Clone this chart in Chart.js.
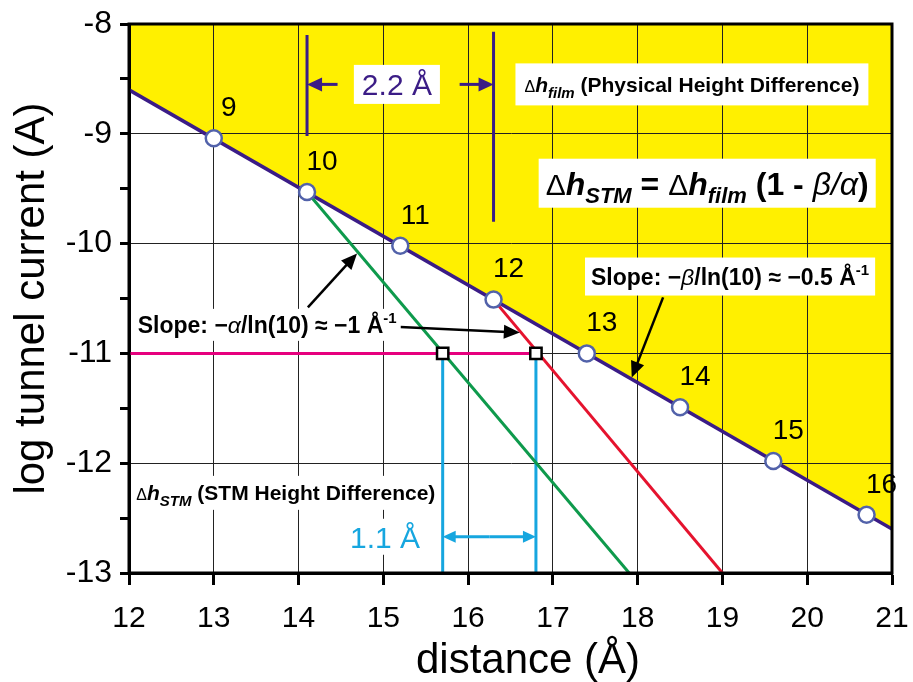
<!DOCTYPE html>
<html>
<head>
<meta charset="utf-8">
<script src="https://cdn.jsdelivr.net/npm/chart.js@4/dist/chart.umd.min.js"></script>
<style>
	html, body { margin: 0; padding: 0; background: #fff; }
	#wrap { width: 913px; height: 682px; }
</style>
</head>
<body>
<div id="wrap"><canvas id="chart" width="913" height="682"></canvas></div>
<script>
const FONT = '"Liberation Sans", Arial, sans-serif'

// layer count labels sitting on the film line
const layerNames = ['9', '10', '11', '12', '13', '14', '15', '16']
const layerX = [13.0, 14.1, 15.2, 16.3, 17.4, 18.5, 19.6, 20.7]
const layerY = [-9.04, -9.53, -10.02, -10.51, -11.0, -11.49, -11.98, -12.47]

// film line (slope -beta/ln10)
const filmX = [12, 21]
const filmY = [-8.6, -12.6]

// tip lines (slope -alpha/ln10)
const greenX = [14.1, 17.9]
const greenY = [-9.53, -13]
const redX = [16.3, 19.0]
const redY = [-10.51, -13]

// constant current set point and crossings
const currentX = [12, 16.8]
const currentY = [-11, -11]
const crossX = [15.7, 16.8]
const crossY = [-11, -11]
const dropY = [-11, -13]

// 2.2 A dimension lines
const dimLeftX = [14.1, 14.1]
const dimLeftY = [-8.1, -9.02]
const dimRightX = [16.3, 16.3]
const dimRightY = [-8.07, -9.8]

const pts = (xs, ys) => xs.map((x, i) => ({ x: x, y: ys[i] }))

const lineSet = (xs, ys, color) => ({
	data: pts(xs, ys),
	borderColor: color,
	borderWidth: 3,
	pointRadius: 0,
	fill: false
})

// mixed-font text, runs = [{t, s, w, st, dy}]
function drawRuns(ctx, runs, cx, cy, o) {
	let total = 0
	runs.forEach(r => {
		ctx.font = (r.st || '') + ' ' + (r.w || '') + ' ' + r.s + 'px ' + FONT
		r.len = ctx.measureText(r.t).width
		total += r.len
	})
	if (o.box) {
		ctx.fillStyle = '#fff'
		ctx.fillRect(cx - total / 2 - o.padX, cy - o.boxH / 2, total + 2 * o.padX, o.boxH)
	}
	let x = cx - total / 2
	const base = cy + o.main * 0.36
	ctx.textAlign = 'left'
	ctx.textBaseline = 'alphabetic'
	ctx.fillStyle = o.color || '#000'
	runs.forEach(r => {
		ctx.font = (r.st || '') + ' ' + (r.w || '') + ' ' + r.s + 'px ' + FONT
		ctx.fillText(r.t, x, base + (r.dy || 0))
		x += r.len
	})
}

function arrow(ctx, x1, y1, x2, y2, color, lw, head, half) {
	const a = Math.atan2(y2 - y1, x2 - x1)
	const c = Math.cos(a)
	const s = Math.sin(a)
	ctx.strokeStyle = color
	ctx.lineWidth = lw
	ctx.beginPath()
	ctx.moveTo(x1, y1)
	ctx.lineTo(x2 - c * head * 0.8, y2 - s * head * 0.8)
	ctx.stroke()
	ctx.fillStyle = color
	ctx.beginPath()
	ctx.moveTo(x2, y2)
	ctx.lineTo(x2 - head * c + half * s, y2 - head * s - half * c)
	ctx.lineTo(x2 - head * c - half * s, y2 - head * s + half * c)
	ctx.closePath()
	ctx.fill()
}

const notesPlugin = {
	id: 'notes',
	afterDatasetsDraw(chart) {
		const ctx = chart.ctx
		const xs = chart.scales.x
		const ys = chart.scales.y
		const X = v => xs.getPixelForValue(v)
		const Y = v => ys.getPixelForValue(v)
		ctx.save()

		// layer numbers
		const meta = chart.getDatasetMeta(0)
		ctx.font = '28px ' + FONT
		ctx.fillStyle = '#000'
		ctx.textAlign = 'center'
		ctx.textBaseline = 'middle'
		meta.data.forEach((p, i) => {
			ctx.fillText(layerNames[i], p.x + 15, p.y - 30)
		})

		// 2.2 A dimension
		const purple = '#3b1c86'
		arrow(ctx, X(14.46), Y(-8.55), X(14.1), Y(-8.55), purple, 3, 15, 7)
		arrow(ctx, X(15.9), Y(-8.55), X(16.3), Y(-8.55), purple, 3, 15, 7)
		drawRuns(ctx, [{ t: '2.2 Å', s: 30 }], X(15.16), Y(-8.55), { box: true, padX: 8, boxH: 39, main: 30, color: purple })

		// 1.1 A dimension
		const cyan = '#16a6df'
		arrow(ctx, X(16.25), Y(-12.67), X(15.7), Y(-12.67), cyan, 3, 13, 6)
		arrow(ctx, X(16.25), Y(-12.67), X(16.8), Y(-12.67), cyan, 3, 13, 6)
		drawRuns(ctx, [{ t: '1.1 Å', s: 30 }], X(15.02), Y(-12.67), { box: true, padX: 4, boxH: 36, main: 30, color: cyan })

		// film label
		drawRuns(ctx, [
			{ t: 'Δ', s: 16 },
			{ t: 'h', s: 21, w: 'bold', st: 'italic' },
			{ t: 'film', s: 15, w: 'bold', st: 'italic', dy: 6 },
			{ t: ' (Physical Height Difference)', s: 21, w: 'bold' }
		], X(18.64), Y(-8.55), { box: true, padX: 9, boxH: 42, main: 21 })

		// formula
		drawRuns(ctx, [
			{ t: 'Δ', s: 30 },
			{ t: 'h', s: 32, w: 'bold', st: 'italic' },
			{ t: 'STM', s: 22, w: 'bold', st: 'italic', dy: 8 },
			{ t: ' = ', s: 32, w: 'bold' },
			{ t: 'Δ', s: 30 },
			{ t: 'h', s: 32, w: 'bold', st: 'italic' },
			{ t: 'film', s: 22, w: 'bold', st: 'italic', dy: 8 },
			{ t: ' (1 - ', s: 32, w: 'bold' },
			{ t: 'β/α', s: 32, st: 'italic' },
			{ t: ')', s: 32, w: 'bold' }
		], X(18.82), Y(-9.45), { box: true, padX: 7, boxH: 49, main: 32 })

		// beta slope
		arrow(ctx, X(18.3), Y(-10.49), X(17.93), Y(-11.22), '#000', 2.5, 16, 7)
		drawRuns(ctx, [
			{ t: 'Slope: −', s: 23, w: 'bold' },
			{ t: 'β', s: 23, st: 'italic' },
			{ t: '/ln(10) ≈ −0.5 Å', s: 23, w: 'bold' },
			{ t: '-1', s: 15, w: 'bold', dy: -10 }
		], X(19.09), Y(-10.3), { box: true, padX: 6, boxH: 38, main: 23 })

		// alpha slope
		arrow(ctx, X(14.11), Y(-10.58), X(14.69), Y(-10.09), '#000', 2.5, 16, 7)
		arrow(ctx, X(15.2), Y(-10.76), X(16.61), Y(-10.81), '#000', 2.5, 16, 7)
		drawRuns(ctx, [
			{ t: 'Slope: −', s: 23, w: 'bold' },
			{ t: 'α', s: 23, st: 'italic' },
			{ t: '/ln(10) ≈ −1 Å', s: 23, w: 'bold' },
			{ t: '-1', s: 15, w: 'bold', dy: -10 }
		], X(13.63), Y(-10.74), { box: true, padX: 4, boxH: 32, main: 23 })

		// STM label
		drawRuns(ctx, [
			{ t: 'Δ', s: 16 },
			{ t: 'h', s: 21, w: 'bold', st: 'italic' },
			{ t: 'STM', s: 15, w: 'bold', st: 'italic', dy: 6 },
			{ t: ' (STM Height Difference)', s: 21, w: 'bold' }
		], X(13.85), Y(-12.27), { box: true, padX: 4, boxH: 34, main: 21 })

		ctx.restore()
	},
	afterDraw(chart) {
		const a = chart.chartArea
		const ctx = chart.ctx
		ctx.save()
		ctx.strokeStyle = '#000'
		ctx.lineWidth = 3
		ctx.strokeRect(a.left, a.top, a.right - a.left, a.bottom - a.top)
		ctx.restore()
	}
}

new Chart(document.getElementById('chart'), {
	type: 'line',
	data: {
		datasets: [
			{
				data: pts(layerX, layerY),
				showLine: false,
				pointRadius: 8,
				pointBorderWidth: 2.5,
				pointBorderColor: '#5262aa',
				pointBackgroundColor: '#fff'
			},
			{
				data: pts(crossX, crossY),
				showLine: false,
				pointStyle: 'rect',
				pointRadius: 8,
				pointBorderWidth: 2.5,
				pointBorderColor: '#000',
				pointBackgroundColor: '#fff'
			},
			lineSet(greenX, greenY, '#0e9a4c'),
			lineSet(redX, redY, '#e5132e'),
			lineSet(currentX, currentY, '#e6007e'),
			lineSet([crossX[0], crossX[0]], dropY, '#16a6df'),
			lineSet([crossX[1], crossX[1]], dropY, '#16a6df'),
			lineSet(dimLeftX, dimLeftY, '#3b1c86'),
			lineSet(dimRightX, dimRightY, '#3b1c86'),
			{
				data: pts(filmX, filmY),
				borderColor: '#3b1c86',
				borderWidth: 3.5,
				pointRadius: 0,
				fill: 'end',
				backgroundColor: '#fff000'
			}
		]
	},
	options: {
		responsive: false,
		animation: false,
		layout: { padding: { top: 24, right: 21, left: 0, bottom: 0 } },
		plugins: {
			legend: { display: false },
			tooltip: { enabled: false },
			filler: { drawTime: 'beforeDraw' }
		},
		scales: {
			x: {
				type: 'linear',
				min: 12,
				max: 21,
				afterFit: s => {
					s.height = 109
					s.paddingLeft = 0
					s.paddingRight = 0
				},
				ticks: {
					stepSize: 1,
					color: '#000',
					padding: 16,
					font: { family: FONT, size: 30 }
				},
				grid: { color: '#222', lineWidth: 1, tickLength: 12, tickWidth: 3, tickColor: '#000' },
				border: { color: '#000', width: 3 },
				title: {
					display: true,
					// leading spaces nudge the title right like the original
					text: '   distance (Å)',
					color: '#000',
					font: { family: FONT, size: 42, lineHeight: 1 },
					padding: { top: 0, bottom: 0 }
				}
			},
			y: {
				min: -13,
				max: -8,
				afterFit: s => {
					s.width = 129
					s.paddingTop = 0
					s.paddingBottom = 0
				},
				ticks: {
					stepSize: 0.5,
					autoSkip: false,
					color: '#000',
					padding: 8,
					font: { family: FONT, size: 32 },
					callback: v => (Number.isInteger(v) ? String(v) : '')
				},
				grid: {
					color: c => (c.tick && Number.isInteger(c.tick.value) ? '#222' : 'rgba(0,0,0,0)'),
					lineWidth: 1,
					tickLength: 9,
					tickWidth: 3,
					tickColor: '#000'
				},
				border: { color: '#000', width: 3 },
				title: {
					display: true,
					text: 'log tunnel current (A)',
					color: '#000',
					font: { family: FONT, size: 42 },
					padding: { top: 7, bottom: 0 }
				}
			}
		}
	},
	plugins: [notesPlugin]
})
</script>
</body>
</html>
